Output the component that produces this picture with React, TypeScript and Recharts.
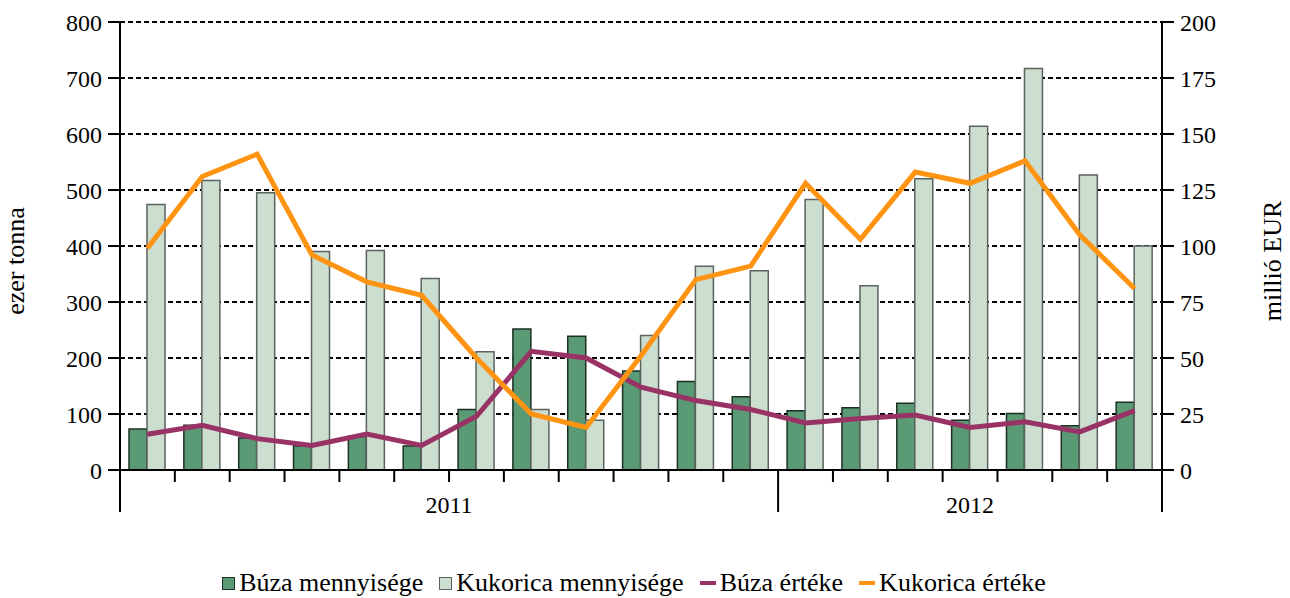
import { ComposedChart, Bar, Line, XAxis, YAxis, CartesianGrid } from "recharts";

const months = [
  "2011.01", "2011.02", "2011.03", "2011.04", "2011.05", "2011.06",
  "2011.07", "2011.08", "2011.09", "2011.10", "2011.11", "2011.12",
  "2012.01", "2012.02", "2012.03", "2012.04", "2012.05", "2012.06", "2012.07",
];

// ezer tonna
const buzaQty = [73, 80, 57, 43, 60, 43, 108, 252, 239, 177, 158, 131, 106, 111, 119, 89, 101, 79, 121];
const kukoricaQty = [474, 517, 495, 390, 392, 342, 211, 108, 89, 240, 364, 356, 483, 329, 520, 614, 717, 527, 400];

// millió EUR
const buzaValue = [16, 20, 14, 11, 16, 11, 24, 53, 50, 37, 31, 27, 21, 23, 24.5, 19, 21.5, 17, 26.5];
const kukoricaValue = [99, 131, 141, 96, 84, 78, 50, 25, 19, 51, 85, 91, 128, 103, 133, 128, 138, 105, 81];

const leftTicks = [0, 100, 200, 300, 400, 500, 600, 700, 800];
const rightTicks = [0, 25, 50, 75, 100, 125, 150, 175, 200];

const SERIES = {
  buzaQty: { name: "Búza mennyisége", color: "#5a9a74", stroke: "#1d2f24" },
  kukoricaQty: { name: "Kukorica mennyisége", color: "#cbdecf", stroke: "#5c625e" },
  buzaValue: { name: "Búza értéke", color: "#993366" },
  kukoricaValue: { name: "Kukorica értéke", color: "#ff9412" },
};

const W = 1290;
const H = 598;
const MARGIN = { top: 22, right: 48, bottom: 78, left: 50 };
const LEFT_W = 70;
const RIGHT_W = 80;
const PLOT_W = W - MARGIN.left - MARGIN.right - LEFT_W - RIGHT_W;
const FONT = "Liberation Serif, serif";

const data = months.map((m, i) => ({
  month: m,
  buzaQty: buzaQty[i],
  kukoricaQty: kukoricaQty[i],
  buzaValue: buzaValue[i],
  kukoricaValue: kukoricaValue[i],
}));

function MonthTick(props: any) {
  const { x, y, index } = props;
  const band = PLOT_W / months.length;
  const left = x - band / 2;
  const year = months[index].slice(0, 4);
  const yearStart = index === 0 || months[index - 1].slice(0, 4) !== year;
  const isLast = index === months.length - 1;
  const count = months.filter((m) => m.startsWith(year)).length;

  return (
    <g>
      <line x1={left} x2={left} y1={y} y2={y + (yearStart ? 42 : 12)} stroke="#000" strokeWidth={2} />
      {isLast && (
        <line x1={x + band / 2} x2={x + band / 2} y1={y} y2={y + 42} stroke="#000" strokeWidth={2} />
      )}
      {yearStart && (
        <text
          x={left + (count * band) / 2}
          y={y + 43}
          textAnchor="middle"
          fontSize={24}
          fontFamily={FONT}
          fill="#000"
        >
          {year}
        </text>
      )}
    </g>
  );
}

function ValueTick(props: any) {
  const { x, y, payload, textAnchor } = props;
  return (
    <text x={x} y={y} dy="0.355em" textAnchor={textAnchor} fontSize={24} fontFamily={FONT} fill="#000">
      {payload.value}
    </text>
  );
}

function AxisTitle({ viewBox, value, side }: any) {
  const cx = side === "left" ? viewBox.x - 35 : viewBox.x + viewBox.width + 30;
  const cy = viewBox.y + viewBox.height / 2 + 15;
  return (
    <text
      x={cx}
      y={cy}
      transform={`rotate(-90, ${cx}, ${cy})`}
      textAnchor="middle"
      dominantBaseline="central"
      fontSize={26}
      fontFamily={FONT}
      fill="#000"
    >
      {value}
    </text>
  );
}

function LegendItem({ kind, color, stroke, label }: any) {
  return (
    <div style={{ display: "flex", alignItems: "center", gap: 4 }}>
      {kind === "box" ? (
        <span
          style={{
            width: 13,
            height: 13,
            background: color,
            border: `1.5px solid ${stroke}`,
            boxSizing: "border-box",
            display: "inline-block",
          }}
        />
      ) : (
        <span style={{ width: 16, height: 4, background: color, display: "inline-block" }} />
      )}
      <span>{label}</span>
    </div>
  );
}

export default function App() {
  return (
    <div
      style={{
        position: "absolute",
        left: 0,
        top: 0,
        width: W,
        height: H,
        background: "#fff",
        fontFamily: FONT,
      }}
    >
      <ComposedChart width={W} height={H} data={data} margin={MARGIN} barGap={0}>
        <CartesianGrid
          yAxisId="left"
          vertical={false}
          stroke="#000"
          strokeWidth={2}
          strokeDasharray="5 3"
        />
        <XAxis
          dataKey="month"
          interval={0}
          height={50}
          tickSize={0}
          tickMargin={0}
          tickLine={false}
          axisLine={{ stroke: "#000", strokeWidth: 2 }}
          tick={<MonthTick />}
        />
        <YAxis
          yAxisId="left"
          orientation="left"
          width={LEFT_W}
          domain={[0, 800]}
          ticks={leftTicks}
          tickSize={12}
          tickMargin={6}
          tick={<ValueTick />}
          axisLine={{ stroke: "#000", strokeWidth: 2 }}
          tickLine={{ stroke: "#000", strokeWidth: 2 }}
          label={(p: any) => <AxisTitle {...p} value="ezer tonna" side="left" />}
        />
        <YAxis
          yAxisId="right"
          orientation="right"
          width={RIGHT_W}
          domain={[0, 200]}
          ticks={rightTicks}
          tickSize={12}
          tickMargin={6}
          tick={<ValueTick />}
          axisLine={{ stroke: "#000", strokeWidth: 2 }}
          tickLine={{ stroke: "#000", strokeWidth: 2 }}
          label={(p: any) => <AxisTitle {...p} value="millió EUR" side="right" />}
        />
        <Bar
          yAxisId="left"
          dataKey="buzaQty"
          name={SERIES.buzaQty.name}
          fill={SERIES.buzaQty.color}
          stroke={SERIES.buzaQty.stroke}
          strokeWidth={1.5}
          barSize={18}
          isAnimationActive={false}
        />
        <Bar
          yAxisId="left"
          dataKey="kukoricaQty"
          name={SERIES.kukoricaQty.name}
          fill={SERIES.kukoricaQty.color}
          stroke={SERIES.kukoricaQty.stroke}
          strokeWidth={1.5}
          barSize={18}
          isAnimationActive={false}
        />
        <Line
          yAxisId="right"
          type="linear"
          dataKey="buzaValue"
          name={SERIES.buzaValue.name}
          stroke={SERIES.buzaValue.color}
          strokeWidth={5}
          dot={false}
          activeDot={false}
          isAnimationActive={false}
        />
        <Line
          yAxisId="right"
          type="linear"
          dataKey="kukoricaValue"
          name={SERIES.kukoricaValue.name}
          stroke={SERIES.kukoricaValue.color}
          strokeWidth={5}
          dot={false}
          activeDot={false}
          isAnimationActive={false}
        />
      </ComposedChart>

      {/* legend */}
      <div
        style={{
          position: "absolute",
          left: 0,
          top: 568,
          width: W - 22,
          display: "flex",
          justifyContent: "center",
          gap: 16,
          fontFamily: FONT,
          fontSize: 26,
          lineHeight: "30px",
          color: "#000",
        }}
      >
        <LegendItem kind="box" color={SERIES.buzaQty.color} stroke={SERIES.buzaQty.stroke} label={SERIES.buzaQty.name} />
        <LegendItem kind="box" color={SERIES.kukoricaQty.color} stroke={SERIES.kukoricaQty.stroke} label={SERIES.kukoricaQty.name} />
        <LegendItem kind="line" color={SERIES.buzaValue.color} label={SERIES.buzaValue.name} />
        <LegendItem kind="line" color={SERIES.kukoricaValue.color} label={SERIES.kukoricaValue.name} />
      </div>
    </div>
  );
}
